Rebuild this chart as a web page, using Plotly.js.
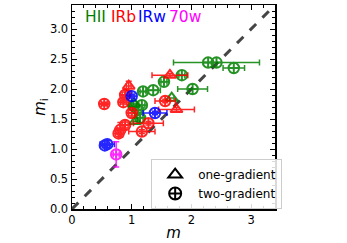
<!DOCTYPE html>
<html>
<head>
<meta charset="utf-8">
<script src="https://cdn.plot.ly/plotly-3.0.1.min.js"></script>
<style>html,body{margin:0;padding:0;background:#fff;}#chart{width:347px;height:243px;}</style>
</head>
<body>
<div id="chart"></div>
<script>
// HII two-gradient
const hiiTwoX    = [2.28, 2.42, 2.71, 2.02, 1.84, 1.54, 1.36, 1.19, 1.17, 1.03, 1.11, 1.14];
const hiiTwoY    = [2.44, 2.44, 2.35, 2.00, 2.23, 2.12, 1.98, 1.96, 1.73, 1.72, 1.65, 1.52];
const hiiTwoXErr = [0.08, 0.72, 0.18, 0.25, 0.05, 0.05, 0.12, 0.05, 0.05, 0.05, 0.05, 0.05];
// HII one-gradient
const hiiOneX    = [1.06, 1.67, 1.04];
const hiiOneY    = [1.46, 1.85, 1.75];
const hiiOneXErr = [0.04, 0.04, 0.04];
// IRb two-gradient
const irbTwoX    = [0.54, 0.86, 0.89, 1.00, 1.56, 1.28, 1.17, 0.81, 0.89, 0.78];
const irbTwoY    = [1.75, 1.78, 1.90, 1.60, 1.80, 1.43, 1.29, 1.32, 1.40, 1.26];
const irbTwoXErr = [0.05, 0.05, 0.05, 0.05, 0.17, 0.25, 0.22, 0.05, 0.05, 0.05];
const irbTwoYErr = [0.03, 0.03, 0.05, 0.05, 0.03, 0.03, 0.03, 0.12, 0.05, 0.05];
// IRb one-gradient
const irbOneX    = [0.95, 1.64, 1.75];
const irbOneY    = [2.05, 2.23, 1.66];
const irbOneXErr = [0.04, 0.30, 0.30];
const irbOneYErr = [0.08, 0.03, 0.03];
// IRw two-gradient
const irwTwoX    = [1.00, 1.39, 0.59, 0.55];
const irwTwoY    = [1.88, 1.60, 1.08, 1.06];
const irwTwoXErr = [0.04, 0.20, 0.12, 0.04];
const irwTwoYErr = [0.03, 0.03, 0.06, 0.03];
// 70w two-gradient
const w70TwoX    = [0.74];
const w70TwoY    = [0.91];
const w70TwoXErr = [0.05];
const w70TwoYErr = [0.21];

const diagX = [0, 3.4];
const diagY = [0, 3.4];

function series(x, y, xe, ye, color, symbol) {
  return {
    x: x, y: y, type: 'scatter', mode: 'markers', showlegend: false,
    marker: {symbol: symbol, size: 10.5, color: color, line: {color: color, width: 2}},
    error_x: {type: 'data', array: xe, color: color, thickness: 1.5, width: 3, visible: true},
    error_y: ye ? {type: 'data', array: ye, color: color, thickness: 1.5, width: 3, visible: true} : {visible: false},
    opacity: 0.85
  };
}

const traces = [
  {x: diagX, y: diagY, type: 'scatter', mode: 'lines', showlegend: false,
   line: {color: '#454545', width: 3, dash: 'dash'}, hoverinfo: 'skip'},
  series(hiiTwoX, hiiTwoY, hiiTwoXErr, null, 'green', 'circle-cross-open'),
  series(hiiOneX, hiiOneY, hiiOneXErr, null, 'green', 'triangle-up-open'),
  series(irbTwoX, irbTwoY, irbTwoXErr, irbTwoYErr, 'red', 'circle-cross-open'),
  series(irbOneX, irbOneY, irbOneXErr, irbOneYErr, 'red', 'triangle-up-open'),
  series(irwTwoX, irwTwoY, irwTwoXErr, irwTwoYErr, 'blue', 'circle-cross-open'),
  series(w70TwoX, w70TwoY, w70TwoXErr, w70TwoYErr, 'magenta', 'circle-cross-open'),
  {x: [null], y: [null], type: 'scatter', mode: 'markers', name: 'one-gradient',
   marker: {symbol: 'triangle-up-open', size: 10, color: 'black', line: {color: 'black', width: 2}}},
  {x: [null], y: [null], type: 'scatter', mode: 'markers', name: 'two-gradient',
   marker: {symbol: 'circle-cross-open', size: 10, color: 'black', line: {color: 'black', width: 2}}}
];

const axisCommon = {
  range: [0, 3.4], showgrid: false, zeroline: false,
  showline: true, linecolor: 'black', linewidth: 1.5, mirror: 'allticks',
  ticks: 'inside', ticklen: 5, tickwidth: 1, tickcolor: 'black',
  tickfont: {family: 'DejaVu Sans', size: 11.5, color: 'black'}
};

const layout = {
  width: 347, height: 243,
  margin: {l: 71.5, r: 71.5, t: 5, b: 34, pad: 0},
  paper_bgcolor: 'white', plot_bgcolor: 'white',
  font: {family: 'DejaVu Sans', color: 'black'},
  xaxis: Object.assign({}, axisCommon, {
    tickvals: [0, 1, 2, 3], ticktext: ['0', '1', '2', '3'],
    minor: {dtick: 0.2, ticks: 'inside', ticklen: 3, tickcolor: 'black', showgrid: false},
    title: {text: '<i>m</i>', font: {family: 'DejaVu Sans', size: 15}, standoff: 1}
  }),
  yaxis: Object.assign({}, axisCommon, {
    tickvals: [0, 0.5, 1, 1.5, 2, 2.5, 3], ticktext: ['0.0', '0.5', '1.0', '1.5', '2.0', '2.5', '3.0'],
    minor: {dtick: 0.1, ticks: 'inside', ticklen: 3, tickcolor: 'black', showgrid: false},
    title: {text: '<i>m</i><sub>i</sub>', font: {family: 'DejaVu Sans', size: 15}, standoff: 0}
  }),
  legend: {
    x: 0.39, y: 0.245, xanchor: 'left', yanchor: 'top',
    bgcolor: 'rgba(255,255,255,0.85)', bordercolor: '#cccccc', borderwidth: 1,
    font: {family: 'DejaVu Sans', size: 12, color: 'black'},
    itemsizing: 'constant', tracegroupgap: 0, itemwidth: 36
  },
  annotations: [
    {text: 'HII', x: 0.056, y: 0.94, xref: 'paper', yref: 'paper', xanchor: 'left', yanchor: 'middle', showarrow: false, font: {family: 'DejaVu Sans', size: 15.5, color: 'green'}},
    {text: 'IRb', x: 0.18, y: 0.94, xref: 'paper', yref: 'paper', xanchor: 'left', yanchor: 'middle', showarrow: false, font: {family: 'DejaVu Sans', size: 15.5, color: 'red'}},
    {text: 'IRw', x: 0.316, y: 0.94, xref: 'paper', yref: 'paper', xanchor: 'left', yanchor: 'middle', showarrow: false, font: {family: 'DejaVu Sans', size: 15.5, color: 'blue'}},
    {text: '70w', x: 0.467, y: 0.94, xref: 'paper', yref: 'paper', xanchor: 'left', yanchor: 'middle', showarrow: false, font: {family: 'DejaVu Sans', size: 15.5, color: 'magenta'}}
  ]
};

Plotly.newPlot('chart', traces, layout, {staticPlot: true, displayModeBar: false});
</script>
</body>
</html>
